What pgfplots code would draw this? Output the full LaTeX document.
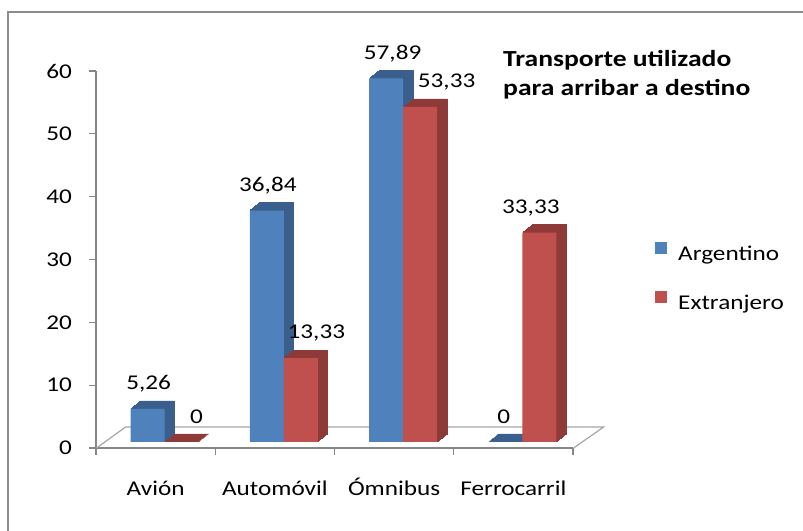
\documentclass[border=0pt]{standalone}
\usepackage{fontspec}
\setmainfont{Carlito}[FakeStretch=1.2]
\usepackage{pgfplots}
\usepackage{pgfplotstable}
\pgfplotsset{compat=1.18}
\definecolor{bblue}{HTML}{4F81BD}
\definecolor{bblueS}{HTML}{3A5F8D}
\definecolor{rred}{HTML}{C0504D}
\definecolor{rredS}{HTML}{8D3A38}
\definecolor{axgray}{HTML}{868686}
\definecolor{floorgray}{HTML}{A6A6A6}
\definecolor{framegray}{HTML}{8C8C8C}

\pgfplotstableread{
x y dx
0 5.26 -7
1 36.84 -7
2 57.89 -1.5
3 0 -9.5
}\argtab
\pgfplotstableread{
x y dx
0 0 41
1 13.33 41.5
2 53.33 52.5
3 33.33 17.5
}\exttab

\newcommand\lbl{\fontsize{21bp}{25bp}\selectfont}

\begin{document}
\begin{tikzpicture}[x=1bp,y=1bp]
\useasboundingbox (0,0) rectangle (803,531);
\draw[framegray, line width=1.5bp] (8,0) -- (8,519) -- (803,519);
\begin{axis}[
  at={(96bp,83bp)}, anchor=south west,
  scale only axis, width=477bp, height=377bp,
  xmin=-0.5, xmax=3.5, ymin=0, ymax=60,
  clip=false,
  axis x line*=bottom, axis y line*=left,
  axis line style={axgray, line width=1.2bp},
  tick style={axgray, line width=1.2bp},
  tick align=outside,
  major tick length=7bp,
  ytick={0,10,20,30,40,50,60},
  yticklabels={0,10,20,30,40,50,60},
  xtick={-0.5,0.5,1.5,2.5,3.5},
  xticklabels={},
  extra x ticks={0,1,2,3},
  extra x tick labels={Avión, Automóvil, Ómnibus, Ferrocarril},
  extra x tick style={major tick length=0pt},
  tick label style={font=\lbl, inner sep=0pt},
  yticklabel style={anchor=east, xshift=-17bp},
  xticklabel style={anchor=base, yshift=-48bp},
  /pgf/number format/use comma,
  /pgf/number format/fixed,
  /pgf/number format/precision=2,
  /pgf/number format/assume math mode=true,
  legend style={at={(1.172,0.548)}, anchor=north west, draw=none, fill=none,
    font=\lbl, row sep=27bp, column sep=9bp, inner sep=0pt},
  legend cell align=left,
  legend image code/.code={\fill[#1] (0bp,-6bp) rectangle (12bp,6bp);},
]
% floor
\draw[floorgray, line width=1.2bp] (axis cs:-0.495,0) -- (axis cs:-0.252,3.34) -- (axis cs:3.757,3.34) -- (axis cs:3.505,0);

% Argentino extrusion (3D depth)
\pgfplotsinvokeforeach{10,9,...,1}{
  \addplot[ybar, bar width=34bp, bar shift=-8bp, fill=bblueS, draw=bblueS, line width=0.8bp,
    xshift=#1bp, yshift={6bp+0.8*#1bp}, forget plot] table[x=x,y=y]{\argtab};
}
\addplot[ybar, bar width=34bp, bar shift=-8bp, fill=bblue, draw=none, yshift=6bp,
  visualization depends on={\thisrow{dx} \as \dx},
  nodes near coords,
  every node near coord/.append style={font=\lbl, text=black, anchor=center, yshift=25bp, xshift=\dx bp}]
  table[x=x,y=y]{\argtab};
\addlegendentry{Argentino}

% Extranjero extrusion
\pgfplotsinvokeforeach{10,9,...,1}{
  \addplot[ybar, bar width=34bp, bar shift=26bp, fill=rredS, draw=rredS, line width=0.8bp,
    xshift=#1bp, yshift={6bp+0.8*#1bp}, forget plot] table[x=x,y=y]{\exttab};
}
\addplot[ybar, bar width=34bp, bar shift=26bp, fill=rred, draw=none, yshift=6bp,
  visualization depends on={\thisrow{dx} \as \dx},
  nodes near coords,
  every node near coord/.append style={font=\lbl, text=black, anchor=center, yshift=25bp, xshift=\dx bp}]
  table[x=x,y=y]{\exttab};
\addlegendentry{Extranjero}
\end{axis}
\node[anchor=base west, font=\bfseries\fontsize{23bp}{28bp}\selectfont, inner sep=0pt] at (503,464) {Transporte utilizado};
\node[anchor=base west, font=\bfseries\fontsize{23bp}{28bp}\selectfont, inner sep=0pt] at (503,435) {para arribar a destino};
\end{tikzpicture}
\end{document}
